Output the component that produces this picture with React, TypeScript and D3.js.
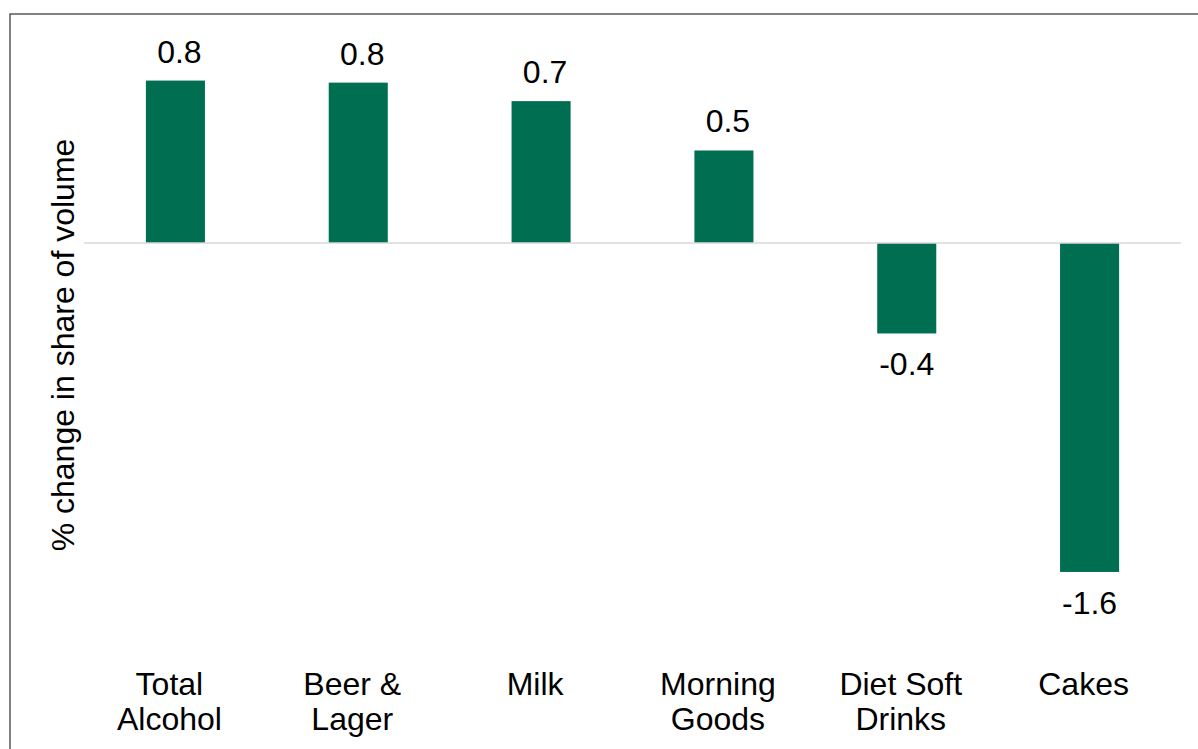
import React from "react";
import * as d3 from "d3";

const categories: string[] = ["Total Alcohol", "Beer & Lager", "Milk", "Morning Goods", "Diet Soft Drinks", "Cakes"];
const categoryLines: string[][] = [["Total", "Alcohol"], ["Beer &", "Lager"], ["Milk"], ["Morning", "Goods"], ["Diet Soft", "Drinks"], ["Cakes"]];
const values: number[] = [0.79, 0.78, 0.69, 0.45, -0.44, -1.6];
const yAxisTitle = "% change in share of volume";
const yDomain: [number, number] = [-2, 1];

const W = 1198;
const H = 749;
const FONT = "'Liberation Sans', Arial, Helvetica, sans-serif";
const BAR = "#006F51";

const fmt = d3.formatLocale({ decimal: ".", thousands: ",", grouping: [3], currency: ["", ""], minus: "-" }).format(".1f");

export default function App() {
  const x = d3.scaleBand<string>().domain(categories).range([84, 1181]).paddingInner(0.677).paddingOuter(0.3385);
  const y = d3.scaleLinear().domain(yDomain).range([654.2, 37.4]);
  const y0 = y(0);

  return (
    <svg width={W} height={H} style={{ position: "absolute", left: 0, top: 0, background: "#fff" }} fontFamily={FONT}>
      <rect x={0} y={0} width={W} height={H} fill="#fff" />
      <rect x={10} y={14} width={W + 20} height={H + 20} fill="none" stroke="#595959" strokeWidth={1.5} />
      {categories.map((c, i) => {
        const v = values[i];
        const bx = x(c)!;
        const top = Math.min(y(v), y0);
        const h = Math.abs(y(v) - y0);
        return <rect key={c} x={bx} y={top} width={x.bandwidth()} height={h} fill={BAR} />;
      })}
      <line x1={84} x2={1181} y1={y0} y2={y0} stroke="#D9D9D9" strokeWidth={1.5} />
      {categories.map((c, i) => {
        const v = values[i];
        const cx = x(c)! + x.bandwidth() / 2 + (v >= 0 ? 4 : 0);
        const ly = v >= 0 ? y(v) - 18 : y(v) + 42;
        return (
          <text key={"l" + c} x={cx} y={ly} textAnchor="middle" fontSize={32} fill="#000">
            {fmt(v)}
          </text>
        );
      })}
      {categories.map((c, i) => {
        const cx = x(c)! + x.bandwidth() / 2 - 6;
        return (
          <text key={"c" + c} x={cx} y={695} textAnchor="middle" fontSize={32} fill="#000">
            {categoryLines[i].map((ln, j) => (
              <tspan key={j} x={cx} dy={j === 0 ? 0 : 35}>
                {ln}
              </tspan>
            ))}
          </text>
        );
      })}
      <text transform={`translate(73.5,345) rotate(-90)`} textAnchor="middle" fontSize={32} fill="#000">
        {yAxisTitle}
      </text>
    </svg>
  );
}
